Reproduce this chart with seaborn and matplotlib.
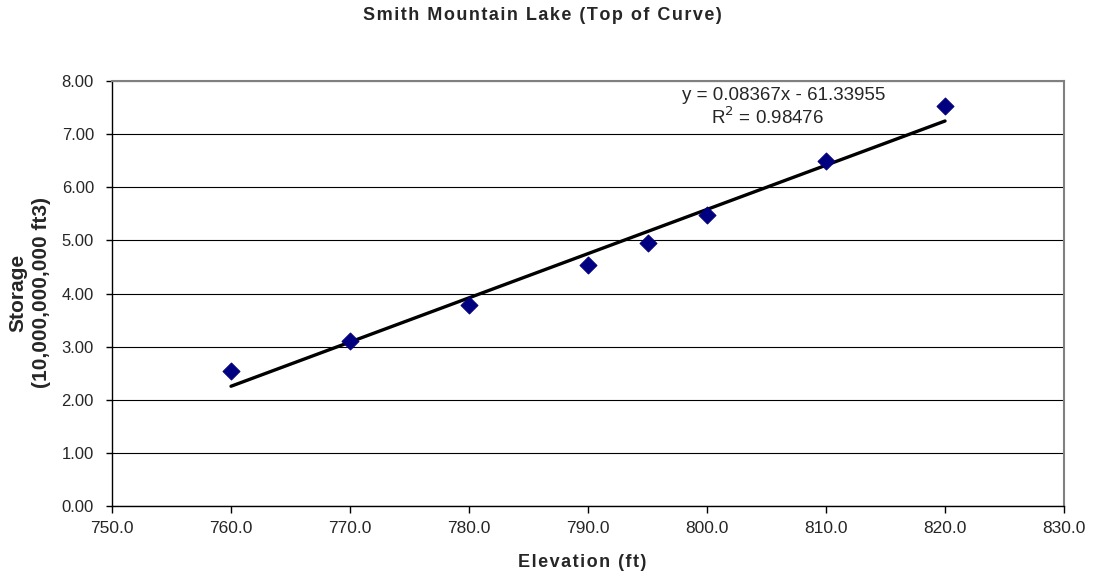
import numpy as np
import pandas as pd
import matplotlib
matplotlib.use('Agg')
import matplotlib.pyplot as plt
import seaborn as sns

# データ
elevation = [760, 770, 780, 790, 795, 800, 810, 820]
storage = [2.55, 3.10, 3.79, 4.54, 4.95, 5.48, 6.49, 7.53]
eq_line1 = "y = 0.08367x - 61.33955"
eq_line2 = "R$^2$ = 0.98476"


def spaced(s):
    # 文字間を少し広げる（hair space）
    return '\u200a'.join(s)


df = pd.DataFrame({'elevation': elevation, 'storage': storage})

sns.set_theme(style='white')
plt.rcParams['font.family'] = ['Liberation Sans', 'DejaVu Sans']

fig = plt.figure(figsize=(10.93, 5.79), dpi=100)
ax = fig.add_axes([0.1025, 0.126, 0.871, 0.734])

# 回帰直線
sns.regplot(data=df, x='elevation', y='storage', scatter=False, ci=None,
            color='black', line_kws={'linewidth': 2.4}, ax=ax)
sns.scatterplot(data=df, x='elevation', y='storage', marker='D', s=75,
                color='#000080', edgecolor='#000080', ax=ax, zorder=3)

ax.set_xlim(750, 830)
ax.set_ylim(0, 8)
ax.set_xticks(np.arange(750, 831, 10))
ax.set_yticks(np.arange(0, 8.01, 1))
ax.xaxis.set_major_formatter(matplotlib.ticker.FormatStrFormatter('%.1f'))
ax.yaxis.set_major_formatter(matplotlib.ticker.FormatStrFormatter('%.2f'))
ax.tick_params(axis='x', direction='out', length=5, width=1, color='black',
               labelsize=12.5, pad=6, bottom=True)
ax.tick_params(axis='y', direction='out', length=4, width=1, color='black',
               labelsize=12, pad=9, left=True)

ax.yaxis.grid(True, color='black', linewidth=0.8)
ax.xaxis.grid(False)
ax.set_axisbelow(True)

for side in ['left', 'bottom']:
    ax.spines[side].set_color('black')
    ax.spines[side].set_linewidth(1)
for side in ['top', 'right']:
    ax.spines[side].set_color('#808080')
    ax.spines[side].set_linewidth(1.5)

ax.set_xlabel('')
ax.set_ylabel('')
fig.text(0.5325, 0.028, spaced('Elevation (ft)'), ha='center', va='center',
         fontsize=13, fontweight='bold')
fig.text(0.027, 0.494, 'Storage\n(10,000,000,000 ft3)', ha='center', va='center',
         rotation=90, fontsize=15, fontweight='bold', linespacing=1.3)
fig.text(0.496, 0.974, spaced('Smith Mountain Lake (Top of Curve)'),
         ha='center', va='center', fontsize=13, fontweight='bold')

ax.text(806.4, 7.72, eq_line1, ha='center', va='center', fontsize=13.5)
ax.text(805.1, 7.32, eq_line2, ha='center', va='center', fontsize=13.5)

fig.savefig('out.png', dpi=100)
